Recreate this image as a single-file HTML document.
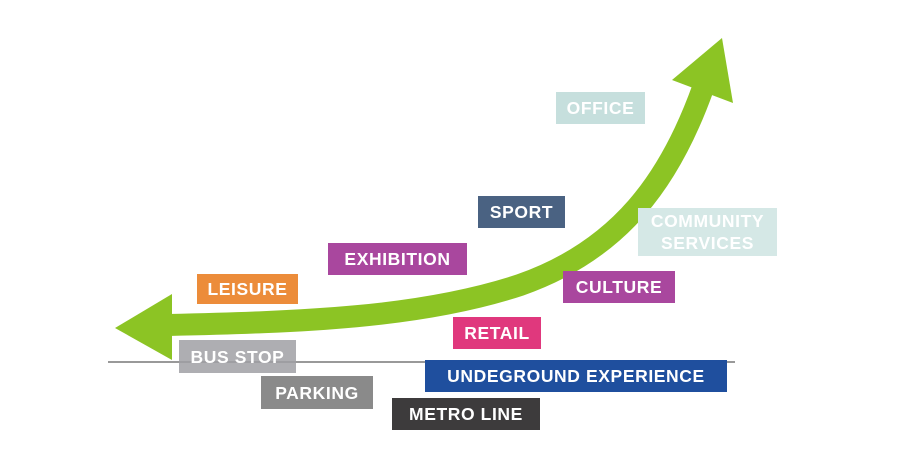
<!DOCTYPE html>
<html><head><style>
html,body{margin:0;padding:0;background:#fff;}
.c{position:relative;width:910px;height:450px;overflow:hidden;font-family:"Liberation Sans",Arial,sans-serif;}
.b{position:absolute;color:#fff;font-weight:bold;font-size:17.5px;display:flex;align-items:center;justify-content:center;text-align:center;line-height:22px;letter-spacing:0.6px;}
svg{position:absolute;left:0;top:0;}
</style></head><body><div class="c">
<svg width="910" height="450">
<line x1="108" y1="362" x2="735" y2="362" stroke="#333" stroke-width="1"/>
<path d="M168,325 C300,322 420,318 520,285 C620,250 670,180 703,88" fill="none" stroke="#8cc424" stroke-width="22"/>
<polygon points="115,328 172,294 172,360" fill="#8cc424"/>
<polygon points="722,38 672,80 733,103" fill="#8cc424"/>
</svg>
<div class="b" style="left:556px;top:92px;width:89px;height:32px;background:#c6dfdd;">OFFICE</div>
<div class="b" style="left:478px;top:196px;width:87px;height:32px;background:#4a6282;">SPORT</div>
<div class="b" style="left:638px;top:208px;width:139px;height:48px;background:#d5e8e6;line-height:22px;">COMMUNITY<br>SERVICES</div>
<div class="b" style="left:328px;top:243px;width:139px;height:32px;background:#a9479e;">EXHIBITION</div>
<div class="b" style="left:197px;top:274px;width:101px;height:30px;background:#ec8c3a;">LEISURE</div>
<div class="b" style="left:563px;top:271px;width:112px;height:32px;background:#a9479e;">CULTURE</div>
<div class="b" style="left:453px;top:317px;width:88px;height:32px;background:#e0387d;">RETAIL</div>
<div class="b" style="left:179px;top:340px;width:117px;height:33px;background:rgba(160,160,165,0.85);">BUS STOP</div>
<div class="b" style="left:425px;top:360px;width:302px;height:32px;background:#1f4f9e;">UNDEGROUND EXPERIENCE</div>
<div class="b" style="left:261px;top:376px;width:112px;height:33px;background:#8a8a8a;">PARKING</div>
<div class="b" style="left:392px;top:398px;width:148px;height:32px;background:#3d3b3c;">METRO LINE</div>
</div></body></html>
